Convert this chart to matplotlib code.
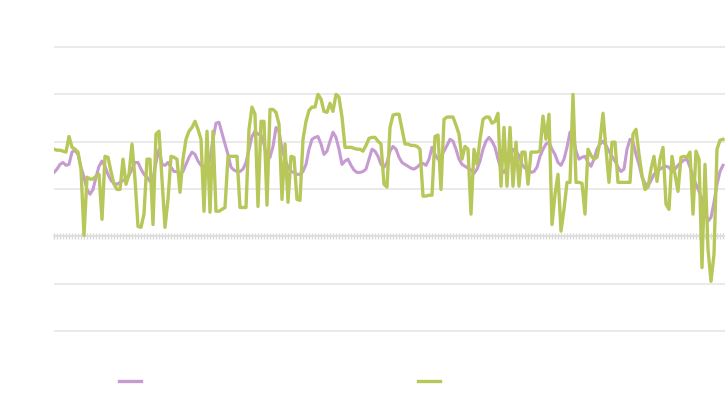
import matplotlib.pyplot as plt
from matplotlib.lines import Line2D

# daily readings, one value per step (grid step = 1 unit)
purple_vals = [
    1.35, 1.42, 1.52, 1.56, 1.50, 1.52, 1.78, 1.82, 1.73, 1.46,
    1.25, 0.99, 0.89, 0.99, 1.25, 1.48, 1.59, 1.48, 1.31, 1.18,
    1.12, 1.10, 1.14, 1.18, 1.21, 1.29, 1.42, 1.56, 1.56, 1.42,
    1.31, 1.25, 1.16, 1.21, 1.56, 1.84, 1.52, 1.50, 1.56, 1.46,
    1.37, 1.37, 1.33, 1.37, 1.52, 1.67, 1.78, 1.73, 1.59, 1.50,
    1.46, 1.50, 1.63, 2.05, 2.39, 2.41, 2.18, 1.95, 1.73, 1.46,
    1.40, 1.37, 1.37, 1.42, 1.56, 1.84, 2.11, 2.22, 2.16, 2.14,
    1.95, 1.63, 1.67, 1.90, 2.30, 2.22, 1.84, 1.63, 1.46, 1.37,
    1.35, 1.31, 1.31, 1.37, 1.52, 1.84, 2.05, 2.09, 2.11, 1.95,
    1.73, 1.80, 2.01, 2.20, 2.09, 1.84, 1.52, 1.59, 1.63, 1.50,
    1.40, 1.35, 1.35, 1.37, 1.42, 1.63, 1.84, 1.80, 1.69, 1.52,
    1.46, 1.56, 1.80, 1.90, 1.84, 1.67, 1.56, 1.52, 1.48, 1.44,
    1.42, 1.46, 1.52, 1.54, 1.50, 1.63, 1.88, 1.73, 1.63, 1.69,
    1.80, 1.92, 2.05, 2.01, 1.84, 1.63, 1.52, 1.48, 1.44, 1.40,
    1.33, 1.42, 1.59, 1.84, 2.01, 2.09, 2.01, 1.88, 1.63, 1.42,
    1.35, 1.46, 1.67, 1.84, 1.80, 1.71, 1.52, 1.44, 1.42, 1.35,
    1.37, 1.46, 1.69, 1.84, 1.95, 1.99, 1.84, 1.73, 1.56, 1.50,
    1.63, 1.88, 2.20, 2.16, 1.80, 1.63, 1.67, 1.69, 1.56, 1.48,
    1.63, 1.84, 1.95, 2.01, 1.92, 1.80, 1.69, 1.59, 1.46, 1.37,
    1.42, 1.84, 2.05, 1.99, 1.73, 1.52, 1.25, 1.12, 1.06, 1.18,
    1.31, 1.37, 1.42, 1.46, 1.48, 1.46, 1.37, 1.42, 1.50, 1.56,
    1.61, 1.63, 1.46, 1.27, 1.10, 0.95, 0.78, 0.53, 0.32, 0.40,
    0.72, 1.10, 1.37, 1.50,
]

green_vals = [
    1.84, 1.82, 1.82, 1.80, 1.78, 2.11, 1.88, 1.84, 1.78, 1.42,
    0.02, 1.25, 1.21, 1.21, 1.27, 1.31, 0.36, 1.69, 1.67, 1.37,
    1.10, 0.99, 0.99, 1.63, 1.10, 1.31, 1.95, 1.21, 0.21, 0.19,
    0.47, 1.63, 1.63, 0.25, 2.16, 2.22, 1.21, 0.19, 0.78, 1.69,
    1.67, 1.63, 0.93, 1.63, 2.05, 2.22, 2.30, 2.43, 2.26, 2.05,
    0.53, 2.22, 0.51, 2.22, 0.53, 0.53, 0.57, 0.61, 1.69, 1.69,
    1.69, 1.69, 0.61, 0.61, 0.61, 2.26, 2.73, 2.58, 0.63, 2.43,
    2.43, 0.66, 2.68, 2.68, 2.62, 2.37, 0.78, 1.95, 0.72, 1.69,
    1.67, 0.78, 0.76, 2.05, 2.43, 2.66, 2.73, 2.73, 3.00, 2.90,
    2.64, 2.62, 2.81, 2.64, 3.00, 2.94, 2.52, 1.88, 1.88, 1.88,
    1.86, 1.84, 1.84, 1.80, 1.92, 2.07, 2.09, 2.09, 2.01, 1.95,
    1.10, 1.04, 2.30, 2.56, 2.58, 2.58, 2.26, 1.95, 1.95, 1.92,
    1.92, 1.90, 1.84, 0.85, 0.85, 0.87, 0.87, 2.11, 2.14, 0.99,
    2.47, 2.52, 2.52, 2.52, 2.35, 2.16, 1.63, 1.90, 1.84, 0.47,
    1.84, 1.52, 2.05, 2.47, 2.52, 2.52, 2.39, 2.43, 2.60, 1.06,
    2.30, 1.06, 2.30, 1.06, 1.99, 1.06, 1.78, 1.78, 1.10, 1.78,
    1.78, 1.78, 1.80, 2.54, 2.05, 2.58, 0.25, 0.89, 1.31, 0.11,
    0.57, 1.14, 1.14, 3.00, 1.14, 1.14, 1.12, 0.47, 1.84, 1.71,
    1.63, 1.67, 2.01, 2.60, 1.84, 1.14, 1.99, 1.99, 1.14, 1.14,
    1.14, 1.14, 1.14, 2.16, 2.26, 1.73, 1.29, 0.99, 1.04, 1.42,
    1.69, 1.16, 1.63, 1.88, 0.68, 0.57, 1.69, 1.31, 0.95, 1.67,
    1.69, 1.67, 1.78, 0.47, 1.80, 1.63, -0.66, 1.52, -0.27, -0.95,
    -0.38, 1.84, 2.03, 2.05,
]

PURPLE = "#c59bd1"
GREEN = "#b7c759"
days = list(range(len(purple_vals)))

fig = plt.figure(figsize=(7.25, 3.93), dpi=100)
ax = fig.add_axes([54 / 725, 1 - 334 / 393, 671 / 725, 290 / 393])

ax.plot(days, purple_vals, color=PURPLE, lw=2.2, zorder=3, solid_joinstyle="round")
ax.plot(days, green_vals, color=GREEN, lw=2.4, zorder=4, solid_joinstyle="round")

ax.set_xlim(0, len(days) - 1 + 2 / 3)
ax.set_ylim(-2 - 3 / 47.3, 4 + 3 / 47.3)
ax.set_yticks(range(-2, 5))
ax.yaxis.grid(True, color="#e6e6e6", lw=1.2)
ax.set_axisbelow(True)
ax.tick_params(axis="y", length=0, labelleft=False)

for side in ["top", "right", "left"]:
    ax.spines[side].set_visible(False)
ax.spines["bottom"].set_position(("data", 0))
ax.spines["bottom"].set_color("#dddddd")
ax.spines["bottom"].set_linewidth(1.2)
ax.set_xticks(days)
ax.tick_params(axis="x", direction="inout", length=5, width=1, color="#d9d9d9",
               labelbottom=False)

# legend swatches (labels left blank as in the source)
for color, cx in [(PURPLE, 130 / 725), (GREEN, 429 / 725)]:
    h = Line2D([], [], color=color, lw=2.4)
    fig.legend(handles=[h], labels=[""], loc="center", bbox_to_anchor=(cx, 1 - 382 / 393),
               frameon=False, handlelength=1.6, handletextpad=0, borderpad=0)

fig.savefig("out.png", dpi=100)
